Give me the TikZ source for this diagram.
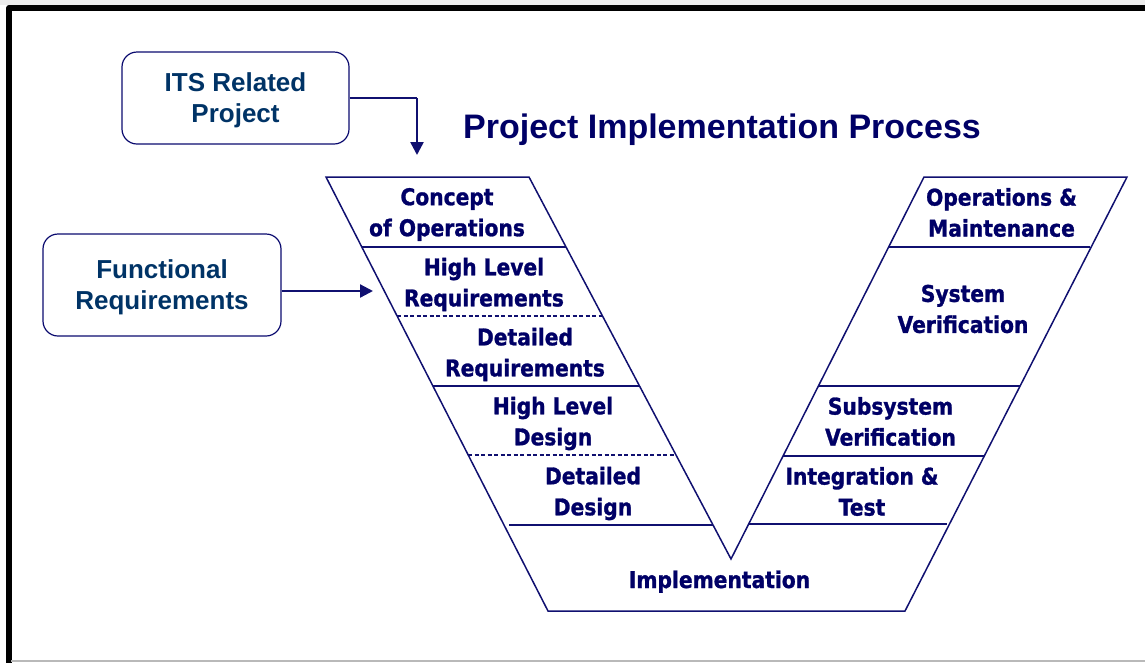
\documentclass[tikz,border=0pt]{standalone}
\usepackage{fontspec}
\setmainfont{Liberation Sans}
\newfontfamily\vfont[FakeStretch=0.88, BoldFeatures={FakeBold=1.2}]{DejaVu Sans}
\usetikzlibrary{arrows.meta}
\definecolor{navytext}{RGB}{0,0,102}
\definecolor{vline}{RGB}{16,16,112}
\definecolor{boxtext}{RGB}{0,51,102}
\definecolor{boxline}{RGB}{10,10,110}
\begin{document}
\begin{tikzpicture}[x=1pt,y=-1pt,
  vlabel/.style={font=\vfont\bfseries\fontsize{23}{31}\selectfont, text=navytext, align=center, inner sep=0pt},
  boxlabel/.style={draw=boxline, line width=1.2pt, rounded corners=15pt, font=\bfseries\fontsize{26}{31}\selectfont, text=boxtext, align=center, inner sep=0pt, text depth=0pt},
  vedge/.style={draw=vline, line width=1.5pt, line join=miter},
  vsep/.style={draw=vline, line width=1.5pt},
  vdash/.style={draw=vline, line width=1.5pt, dash pattern=on 4pt off 2.5pt},
  thinconn/.style={draw=vline, line width=1.1pt},
  thickconn/.style={draw=vline, line width=2.5pt, -{Triangle[length=13pt,width=13pt]}},
  titletext/.style={font=\bfseries\fontsize{34}{40}\selectfont, text=navytext, inner sep=0pt, anchor=base}
  ]
\useasboundingbox (0,0) rectangle (1145,662);
% frame
\fill[gray!15] (0,0) rectangle (1145,4.5);
\draw[black, line width=5.5pt, line join=round] (9,670) -- (9,7.75) -- (1160,7.75);
\draw[gray!55, line width=1.5pt] (11,661) -- (1145,661);

% title
\node[titletext] (title) at (722,138) {Project Implementation Process};

% input boxes
\node[boxlabel, minimum width=227pt, minimum height=92pt] (its) at (235.5,98) {ITS Related\\Project};
\node[boxlabel, minimum width=238pt, minimum height=102pt] (func) at (162,285) {Functional\\Requirements};

% V outline
\coordinate (A) at (326,177);
\coordinate (B) at (529,177);
\coordinate (C) at (731,559);
\coordinate (D) at (924,177);
\coordinate (E) at (1127,177);
\coordinate (F) at (905,611);
\coordinate (G) at (548,611);
\draw[vedge] (A) -- (B) -- (C) -- (D) -- (E) -- (F) -- (G) -- cycle;

% left arm separators
\coordinate (l1a) at (361.8,247); \coordinate (l1b) at (566.0,247);
\coordinate (l2a) at (397.1,316); \coordinate (l2b) at (602.5,316);
\coordinate (l3a) at (432.9,386); \coordinate (l3b) at (639.5,386);
\coordinate (l4a) at (468.2,455); \coordinate (l4b) at (676.0,455);
\coordinate (l5a) at (509.0,525); \coordinate (l5b) at (713.0,525);
\draw[vsep] (l1a) -- (l1b);
\draw[vdash] (l2a) -- (l2b);
\draw[vsep] (l3a) -- (l3b);
\draw[vdash] (l4a) -- (l4b);
\draw[vsep] (l5a) -- (l5b);

% right arm separators
\coordinate (r1a) at (888.6,247); \coordinate (r1b) at (1090.2,247);
\coordinate (r2a) at (818.4,386); \coordinate (r2b) at (1020.1,386);
\coordinate (r3a) at (783.0,456); \coordinate (r3b) at (984.3,456);
\coordinate (r4a) at (748.7,524); \coordinate (r4b) at (946.5,524);
\draw[vsep] (r1a) -- (r1b);
\draw[vsep] (r2a) -- (r2b);
\draw[vsep] (r3a) -- (r3b);
\draw[vsep] (r4a) -- (r4b);

% labels
\node[vlabel] (conops) at (447,214.5) {Concept\\of Operations};
\node[vlabel] (hlreq) at (484,284.5) {High Level\\Requirements};
\node[vlabel] (dreq) at (525,354.5) {Detailed\\Requirements};
\node[vlabel] (hld) at (553,423.5) {High Level\\Design};
\node[vlabel] (dd) at (593,493.5) {Detailed\\Design};
\node[vlabel, anchor=base] (impl) at (719.5,588) {Implementation};
\node[vlabel] (opm) at (1001.5,212.5) {Operations \&\\Maintenance};
\node[vlabel] (sysv) at (963,309) {System\\Verification};
\node[vlabel] (subv) at (890.5,421.5) {Subsystem\\Verification};
\node[vlabel] (intt) at (862,491.5) {Integration \&\\Test};

% connectors
\coordinate (itsbend) at (417,98);
\coordinate (itstip) at (417,155);
\draw[thinconn] (its.east) -- (itsbend);
\draw[thickconn] (itsbend) -- (itstip);
\coordinate (functip) at (373,291);
\draw[thickconn, line width=2.2pt] ([yshift=-6pt]func.east) -- (functip);
\end{tikzpicture}
\end{document}
